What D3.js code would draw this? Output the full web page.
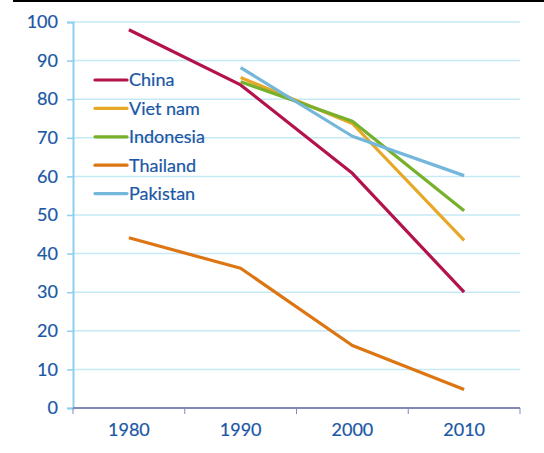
<!DOCTYPE html>
<html>
<head>
<meta charset="utf-8">
<script src="https://cdn.jsdelivr.net/npm/d3@7"></script>
<style>
  html, body { margin: 0; padding: 0; background: #fff; }
  svg { display: block; font-family: Lato, sans-serif; }
  svg text { stroke: #1a57a5; stroke-width: 0.2px; }
</style>
</head>
<body>
<svg id="chart" width="544" height="453"></svg>
<script>
// Decades on the x axis
const years = ["1980", "1990", "2000", "2010"];
// Y axis ticks
const yTicks = [0, 10, 20, 30, 40, 50, 60, 70, 80, 90, 100];

// Series values per decade (null = no data)
const china     = [98.0, 83.7, 60.8, 30.0];
const vietNam   = [null, 85.6, 73.7, 43.4];
const indonesia = [null, 84.5, 74.3, 51.1];
const thailand  = [44.1, 36.2, 16.2, 4.8];
const pakistan  = [null, 88.2, 70.4, 60.2];

const seriesNames  = ["China", "Viet nam", "Indonesia", "Thailand", "Pakistan"];
const seriesValues = [china, vietNam, indonesia, thailand, pakistan];
const seriesColors = ["#b3124c", "#e6a826", "#77b02a", "#dc7512", "#74b7da"];

const svg = d3.select("#chart");
const margin = { left: 73, right: 24, top: 22, bottom: 45 };
const W = 544, H = 453;

const x = d3.scaleBand().domain(years).range([margin.left, W - margin.right]);
const y = d3.scaleLinear().domain([0, 100]).range([H - margin.bottom, margin.top]);

const textColor = "#1a57a5";
const fontSize = 18;

// Rule across the top
svg.append("line")
  .attr("x1", 13).attr("x2", W).attr("y1", 1).attr("y2", 1)
  .attr("stroke", "#000").attr("stroke-width", 2);

// Horizontal gridlines
svg.append("g")
  .selectAll("line")
  .data(yTicks.filter(d => d > 0))
  .join("line")
  .attr("x1", margin.left).attr("x2", W - margin.right)
  .attr("y1", d => y(d)).attr("y2", d => y(d))
  .attr("stroke", "#c6e9f6").attr("stroke-width", 1.5);

// Y axis
const yAxis = svg.append("g")
  .attr("transform", `translate(${margin.left},0)`)
  .call(d3.axisLeft(y).tickValues(yTicks).tickSize(6).tickPadding(9));
yAxis.select(".domain").attr("stroke", "#8ccfee").attr("stroke-width", 2);
yAxis.selectAll(".tick line").attr("stroke", "#8ccfee").attr("stroke-width", 1.5);
yAxis.selectAll(".tick text")
  .attr("fill", textColor).attr("font-size", fontSize)
  .attr("font-family", "Lato, sans-serif");

// X axis
const xAxis = svg.append("g")
  .attr("transform", `translate(0,${y(0)})`)
  .call(d3.axisBottom(x).tickSize(0).tickPadding(15));
xAxis.select(".domain").remove();
xAxis.append("line")
  .attr("x1", margin.left).attr("x2", W - margin.right)
  .attr("stroke", "#8289b7").attr("stroke-width", 2);
xAxis.selectAll(".sep")
  .data(d3.range(years.length + 1))
  .join("line")
  .attr("class", "sep")
  .attr("x1", i => margin.left + i * x.step())
  .attr("x2", i => margin.left + i * x.step())
  .attr("y1", 0).attr("y2", 6)
  .attr("stroke", "#8289b7").attr("stroke-width", 1);
xAxis.selectAll(".tick text")
  .attr("fill", textColor).attr("font-size", fontSize)
  .attr("font-family", "Lato, sans-serif");

// Series lines
const line = d3.line()
  .defined(d => d.v !== null)
  .x(d => x(d.year) + x.bandwidth() / 2)
  .y(d => y(d.v));

seriesValues.forEach((vals, i) => {
  svg.append("path")
    .datum(vals.map((v, j) => ({ year: years[j], v })))
    .attr("fill", "none")
    .attr("stroke", seriesColors[i])
    .attr("stroke-width", 3.2)
    .attr("stroke-linejoin", "round")
    .attr("d", line);
});

// Legend
const legend = svg.append("g").attr("transform", "translate(95,80)");
seriesNames.forEach((name, i) => {
  const g = legend.append("g").attr("transform", `translate(0,${i * 28.4})`);
  g.append("line")
    .attr("x1", 0).attr("x2", 32).attr("y1", 0).attr("y2", 0)
    .attr("stroke", seriesColors[i]).attr("stroke-width", 3.2)
    .attr("stroke-linecap", "round");
  g.append("text")
    .attr("x", 34).attr("y", 0).attr("dy", "0.36em")
    .attr("fill", textColor).attr("font-size", fontSize)
    .text(name);
});
</script>
</body>
</html>
